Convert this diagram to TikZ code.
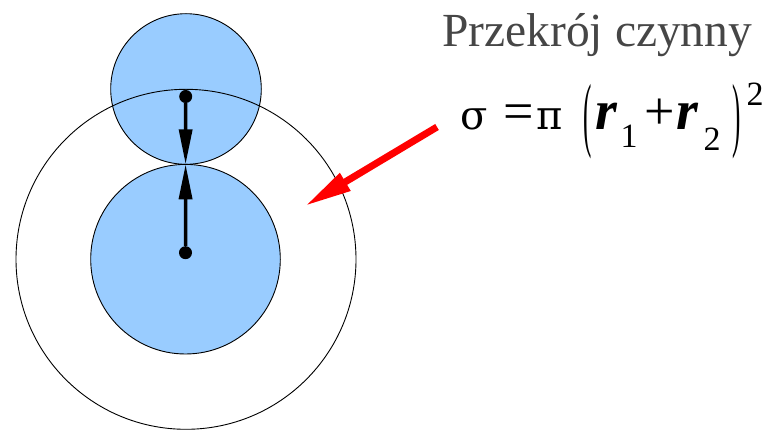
\documentclass[tikz,border=0pt]{standalone}
\usepackage{fontspec}
\usepackage{graphicx}
\setmainfont{Liberation Serif}
\newfontfamily\greekfont{DejaVu Serif}
\usetikzlibrary{arrows.meta}
\definecolor{ballblue}{RGB}{153,204,255}
\definecolor{titlegray}{RGB}{70,70,70}
\begin{document}
\begin{tikzpicture}[x=1pt,y=-1pt,
  ball/.style={draw=black, line width=0.9pt, fill=ballblue},
  ring/.style={draw=black, line width=0.9pt},
  centre/.style={circle, fill=black, inner sep=0pt, minimum size=13pt},
  radiusarrow/.style={line width=3.5pt, -{Triangle[length=35pt,width=13pt]}},
  pointer/.style={draw=red, line width=7pt, -{Triangle[length=47pt,width=19pt]}},
  glyph/.style={inner sep=0pt, anchor=base, font=\fontsize{40}{46}\greekfont},
  opglyph/.style={inner sep=0pt, anchor=base, font=\fontsize{54}{60}\selectfont},
  varglyph/.style={inner sep=0pt, anchor=base, font=\fontsize{56}{64}\selectfont\bfseries\itshape},
  idxglyph/.style={inner sep=0pt, anchor=base, font=\fontsize{34}{40}\selectfont},
  paren/.style={inner sep=0pt, anchor=center, font=\fontsize{50}{56}\selectfont}
]
\useasboundingbox (0,0) rectangle (769,430);
% balls
\draw[ball] (186,89) circle[radius=75.3pt];
\draw[ball] (185.5,259.2) circle[radius=94.8pt];
\draw[ring] (186,259.3) circle[radius=170pt];
% centres and radii
\node[centre] (c1) at (185.7,96.5) {};
\node[centre] (c2) at (185.5,252.7) {};
\coordinate (touch) at (185.6,164.3);
\draw[radiusarrow] (c1) -- (touch);
\draw[radiusarrow] (c2) -- (touch);
% pointer
\coordinate (ptail) at (437,127);
\coordinate (ptip) at (305,206);
\draw[pointer] (ptail) -- (ptip);
% title
\node[inner sep=0pt, anchor=base west, text=titlegray, font=\fontsize{47.5}{56}\selectfont] (title) at (442,47) {Przekrój czynny};
% formula
\node[glyph] (sigma) at (474,130) {σ};
\node[opglyph] (equal) at (519,130) {=};
\node[glyph] (pi) at (550,130) {π};
\node[paren] (lpar) at (588,121.5) {\scalebox{0.5}[1.65]{(}};
\node[varglyph] (ra) at (606,130) {r};
\node[idxglyph] (ia) at (629,148) {1};
\node[opglyph] (plus) at (660,130) {+};
\node[varglyph] (rb) at (687,130) {r};
\node[idxglyph] (ib) at (712,151) {2};
\node[paren] (rpar) at (737,121.5) {\scalebox{0.5}[1.65]{)}};
\node[idxglyph] (sq) at (755,106) {2};
\end{tikzpicture}
\end{document}
